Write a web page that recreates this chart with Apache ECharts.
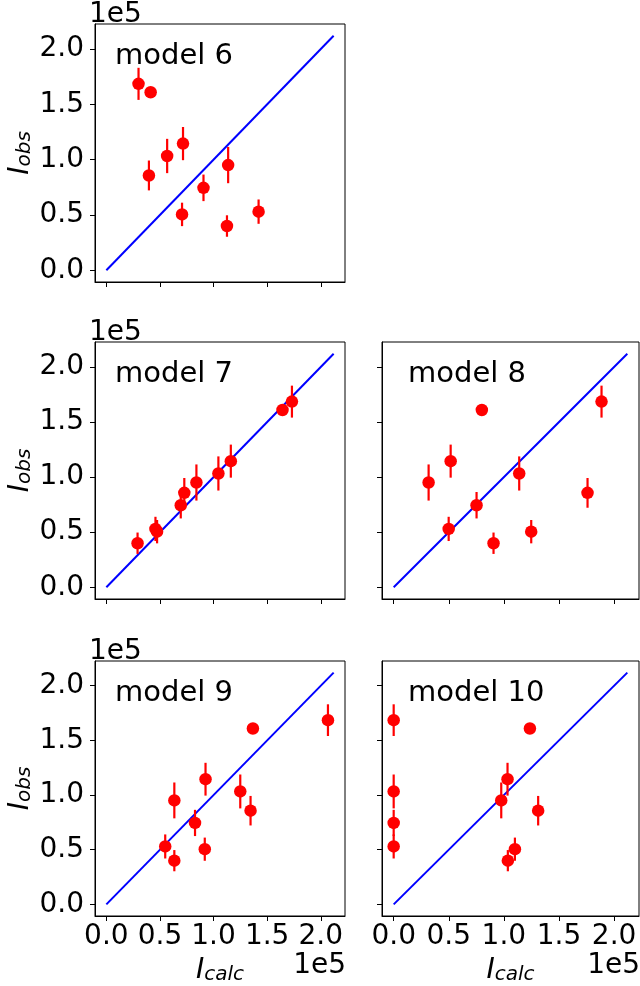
<!DOCTYPE html>
<html><head><meta charset="utf-8">
<script src="https://cdn.jsdelivr.net/npm/echarts@6/dist/echarts.min.js"></script>
<style>html,body{margin:0;padding:0;background:#fff}#c{width:640px;height:986px}</style>
</head><body><div id="c"></div>
<script>
// Observed intensities (shared by all models) and their errors
const yObs = [168500, 160900, 85700, 103300, 114500, 50500, 74500, 95100, 40000, 53000];
const yErr = [14500, 3500, 13500, 15500, 15000, 10600, 12000, 16400, 9700, 11000];
// Calculated intensities per model (same point order as yObs)
const calcModel6  = [30000, 41300, 39700, 56700, 71500, 70600, 90600, 113600, 112500, 142000];
const calcModel7  = [173100, 164300, 72700, 104500, 116100, 47300, 69400, 84000, 29100, 45800];
const calcModel8  = [188600, 80000, 175900, 113900, 51700, 124800, 75200, 31700, 90600, 49900];
const calcModel9  = [206700, 136700, 134500, 124900, 92500, 91800, 82700, 63400, 63400, 54900];
const calcModel10 = [0, 123600, 131100, 0, 103300, 110000, 0, 97600, 103600, 0];
const modelNames = ['model 6', 'model 7', 'model 8', 'model 9', 'model 10'];
const tickValues = [0, 50000, 100000, 150000, 200000];
const diagonalEnd = 212000;
const axisMin = -10600, axisMax = 222600;

const calcSets = [calcModel6, calcModel7, calcModel8, calcModel9, calcModel10];
const FONT = 'DejaVu Sans';
// layout (pixels)
const panels = [
  {left: 89, top: 24, w: 256, h: 258, xl: false, yl: true},
  {left: 89, top: 342, w: 256, h: 257, xl: false, yl: true},
  {left: 382, top: 342, w: 257, h: 257, xl: false, yl: false},
  {left: 89, top: 661, w: 256, h: 256, xl: true, yl: true},
  {left: 382, top: 661, w: 257, h: 256, xl: true, yl: false}
];

const fmt = v => (v / 1e5).toFixed(1);
const richName = {
  i: {fontFamily: FONT, fontStyle: 'italic', fontSize: 28, lineHeight: 28, verticalAlign: 'top', color: '#000'},
  s: {fontFamily: FONT, fontStyle: 'italic', fontSize: 20, lineHeight: 20, verticalAlign: 'bottom', padding: [14, 0, 0, 0], color: '#000'}
};

const grid = [], xAxis = [], yAxis = [], series = [], title = [];
panels.forEach((p, k) => {
  grid.push({left: p.left, top: p.top, width: p.w, height: p.h, show: true, borderColor: '#000', borderWidth: 1, containLabel: false});
  const common = (showLabel) => ({
    type: 'value', gridIndex: k, min: axisMin, max: axisMax,
    splitLine: {show: false},
    axisLine: {show: true, onZero: false, lineStyle: {color: '#000', width: 1}},
    axisTick: {show: true, customValues: tickValues, length: 5, lineStyle: {color: '#000', width: 1}},
    axisLabel: {show: showLabel, customValues: tickValues, formatter: fmt, fontFamily: FONT, fontSize: 28, color: '#000'},
    nameMoveOverlap: false
  });
  const xa = common(p.xl);
  xa.axisLabel.margin = 7;
  if (p.xl) {
    xa.name = '{i|I}{s|calc}';
    xa.nameLocation = 'middle';
    xa.nameGap = 41;
    xa.nameTextStyle = {rich: richName};
  }
  xAxis.push(xa);
  const ya = common(p.yl);
  ya.axisLabel.margin = 11;
  if (p.yl) {
    ya.name = '{i|I}{s|obs}';
    ya.nameLocation = 'middle';
    ya.nameRotate = 90;
    ya.nameGap = 60;
    ya.nameTextStyle = {rich: richName};
  }
  yAxis.push(ya);

  const pts = calcSets[k].map((c, i) => [c, yObs[i], yErr[i]]);
  series.push({
    type: 'line', xAxisIndex: k, yAxisIndex: k, data: [[0, 0], [diagonalEnd, diagonalEnd]],
    showSymbol: false, symbol: 'none', lineStyle: {color: '#0000ff', width: 2}, z: 1, silent: true
  });
  series.push({
    type: 'custom', xAxisIndex: k, yAxisIndex: k, data: pts, z: 2, silent: true,
    renderItem: (params, api) => {
      const x = api.value(0), y = api.value(1), e = api.value(2);
      const a = api.coord([x, y + e]), b = api.coord([x, y - e]);
      return {type: 'line', shape: {x1: a[0], y1: a[1], x2: b[0], y2: b[1]}, style: {stroke: '#ff0000', lineWidth: 2.2}};
    }
  });
  series.push({
    type: 'scatter', xAxisIndex: k, yAxisIndex: k, data: pts, symbolSize: 12.5,
    itemStyle: {color: '#ff0000', opacity: 1}, z: 3, silent: true
  });

  title.push({text: modelNames[k], left: p.left + 26, top: p.top + 18, padding: 0,
    textStyle: {fontFamily: FONT, fontSize: 29, fontWeight: 'normal', color: '#000'}});
  if (p.yl) {
    title.push({text: '1e5', left: p.left, top: p.top - 23, padding: 0,
      textStyle: {fontFamily: FONT, fontSize: 28, fontWeight: 'normal', color: '#000'}});
  }
  if (p.xl) {
    title.push({text: '1e5', right: 640 - (p.left + p.w) - 1, top: 952, padding: 0,
      textStyle: {fontFamily: FONT, fontSize: 28, fontWeight: 'normal', color: '#000'}});
  }
});

const chart = echarts.init(document.getElementById('c'), null, {renderer: 'canvas'});
chart.setOption({animation: false, backgroundColor: '#fff', title, grid, xAxis, yAxis, series});
</script>
</body></html>
